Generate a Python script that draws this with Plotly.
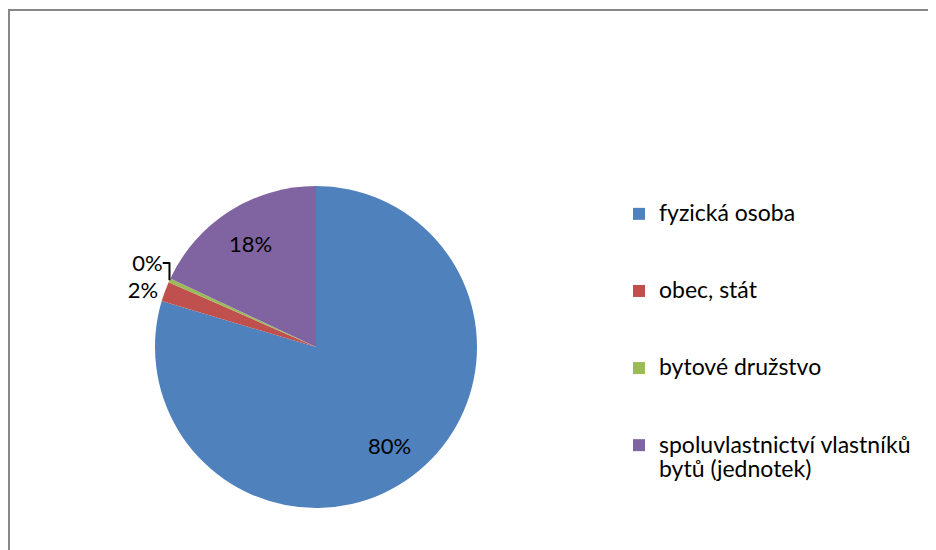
import math
import plotly.graph_objects as go

categories = ["fyzická osoba", "obec, stát", "bytové družstvo",
              "spoluvlastnictví vlastníků<br>bytů (jednotek)"]
shares = [79.6, 2.0, 0.4, 18.0]
colors = ["#4F81BD", "#C0504D", "#9BBB59", "#8064A2"]
text_positions = ["none", "outside", "outside", "none"]
inside_labels = [True, False, False, True]

W, H = 936, 550
cx, cy, r = 308, 339, 161          # pie centre / radius in px (layout)
FONT = "Lato"


def legend_label(name, lines_total=3):
    parts = name.split("<br>")
    shown = "<br>".join(f"<span style='font-size:23px'>{p}</span>" for p in parts)
    pad = max(0, lines_total - len(parts))
    return shown + "<br> " * pad


labels = [legend_label(c) for c in categories]

fig = go.Figure()
fig.add_trace(go.Pie(
    labels=labels,
    values=shares,
    sort=False,
    direction="clockwise",
    rotation=0,
    marker=dict(colors=colors, line=dict(width=0)),
    textinfo="percent",
    texttemplate="%{percent:.0%}",
    textposition=text_positions,
    textfont=dict(family=FONT, size=22, color="#000000"),
    domain=dict(x=[(cx - r) / W, (cx + r) / W],
                y=[(H - cy - r) / H, (H - cy + r) / H]),
    showlegend=True,
    hoverinfo="percent",
))

# inside percentage labels placed along each slice's mid-angle
total = sum(shares)
annotations = []
acc = 0.0
for v, inside in zip(shares, inside_labels):
    mid = (acc + v / 2) / total * 2 * math.pi
    acc += v
    if not inside:
        continue
    px = cx + 0.76 * r * math.sin(mid)
    py = cy - 0.76 * r * math.cos(mid)
    annotations.append(dict(
        x=px / W, y=1 - py / H, xref="paper", yref="paper",
        text=f"{round(v / total * 100)}%", showarrow=False,
        font=dict(family=FONT, size=22, color="#000000"),
        xanchor="center", yanchor="middle"))

fig.update_layout(
    width=W, height=H,
    margin=dict(l=0, r=0, t=0, b=0),
    paper_bgcolor="white",
    plot_bgcolor="white",
    font=dict(family=FONT, size=19, color="#000000"),
    legend=dict(
        x=611 / W, y=1 - 187 / H, xanchor="left", yanchor="top",
        font=dict(family=FONT, size=19, color="#000000"),
        itemwidth=30,
        valign="top",
        bgcolor="rgba(0,0,0,0)",
    ),
    annotations=annotations,
    shapes=[dict(type="rect", xref="paper", yref="paper",
                 x0=1 / W, x1=1.05, y0=-0.05, y1=1 - 2 / H,
                 line=dict(color="#878787", width=2))],
)

fig.write_html("out.html")
